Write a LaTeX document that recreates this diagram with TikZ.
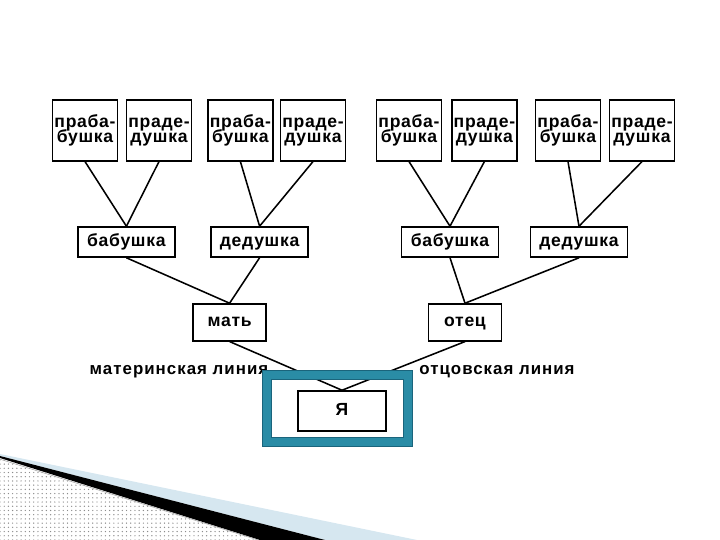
\documentclass[tikz,border=0pt]{standalone}
\usepackage{fontspec}
\setmainfont{Liberation Sans}
\newfontfamily\treefont{Liberation Sans}[LetterSpace=4]
\newfontfamily\linefont{Liberation Sans}[LetterSpace=6]
\newcommand\tightlines{\lineskiplimit=-20pt\relax}
\usetikzlibrary{patterns}
\definecolor{frameteal}{RGB}{42,140,166}
\definecolor{frameedge}{RGB}{26,100,124}
\definecolor{wedgeblue}{RGB}{214,231,240}

\begin{document}
\begin{tikzpicture}[
  box/.style={draw,line width=1.1pt,inner sep=0pt,text height=9.2pt,text depth=2.7pt,
    font=\fontsize{12.5}{11}\selectfont\treefont\bfseries},
  great/.style={box,minimum width=1.62cm,minimum height=1.52cm,align=center,
    text height=20.2pt,text depth=2.7pt,execute at begin node=\tightlines},
  grand/.style={box,minimum width=2.42cm,minimum height=0.75cm},
  parent/.style={box,minimum width=1.82cm,minimum height=0.92cm},
  lineage/.style={font=\fontsize{12}{13}\selectfont\linefont\bfseries},
  link/.style={line width=1.1pt}]
  \useasboundingbox (0,0) rectangle (18,13.5);
  % slide corner
  \fill[wedgeblue] (0,2.15) -- (10.425,0) -- (8.125,0) -- (0,2.1) -- cycle;
  \fill[black] (0,2.1) -- (8.125,0) -- (6.5,0) -- (0,2.05) -- cycle;
  \fill[pattern=dots,pattern color=black!45] (0,2.05) -- (6.5,0) -- (0,0) -- cycle;
  \draw[gray!70,line width=0.4pt] (0,2.02) -- (6.45,0);
  % great-grandparents
  \node[great] (pb1) at (2.125,10.24) {праба-\\бушка};
  \node[great] (pd1) at (3.975,10.24) {праде-\\душка};
  \node[great] (pb2) at (6.01,10.24) {праба-\\бушка};
  \node[great] (pd2) at (7.825,10.24) {праде-\\душка};
  \node[great] (pb3) at (10.225,10.24) {праба-\\бушка};
  \node[great] (pd3) at (12.11,10.24) {праде-\\душка};
  \node[great] (pb4) at (14.2,10.24) {праба-\\бушка};
  \node[great] (pd4) at (16.05,10.24) {праде-\\душка};
  % grandparents
  \node[grand] (bm) at (3.16,7.45) {бабушка};
  \node[grand] (dm) at (6.49,7.45) {дедушка};
  \node[grand] (bo) at (11.25,7.45) {бабушка};
  \node[grand] (do) at (14.475,7.45) {дедушка};
  % parents and me
  \node[parent] (mat) at (5.74,5.44) {мать};
  \node[parent] (otec) at (11.625,5.44) {отец};
  \node[box,minimum width=2.2cm,minimum height=1cm] (ya) at (8.55,3.225) {Я};
  % links
  \draw[link] (pb1.south) -- (bm.north);
  \draw[link] (pd1.south) -- (bm.north);
  \draw[link] (pb2.south) -- (dm.north);
  \draw[link] (pd2.south) -- (dm.north);
  \draw[link] (pb3.south) -- (bo.north);
  \draw[link] (pd3.south) -- (bo.north);
  \draw[link] (pb4.south) -- (do.north);
  \draw[link] (pd4.south) -- (do.north);
  \draw[link] (bm.south) -- (mat.north);
  \draw[link] (dm.south) -- (mat.north);
  \draw[link] (bo.south) -- (otec.north);
  \draw[link] (do.south) -- (otec.north);
  \draw[link] (mat.south) -- (ya.north);
  \draw[link] (otec.south) -- (ya.north);
  \node[lineage] (matline) at (4.475,4.2) {материнская линия};
  \node[lineage] (otline) at (12.425,4.2) {отцовская линия};
  % frame round me
  \node[draw=frameedge,line width=0.7pt,double=frameteal,double distance=5.8pt,
    minimum width=3.525cm,minimum height=1.675cm] (frame) at (8.44,3.29) {};
\end{tikzpicture}
\end{document}
